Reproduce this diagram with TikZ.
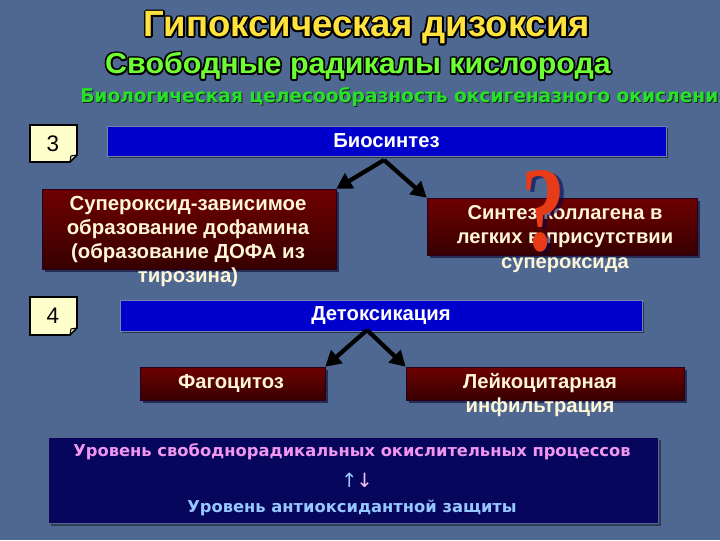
\documentclass[tikz,border=0pt]{standalone}
\usepackage{fontspec}
\setmainfont{Liberation Sans}
\newfontfamily\widef[FakeStretch=1.05]{Liberation Sans}
\newfontfamily\greenf[FakeStretch=0.98]{DejaVu Sans}
\newfontfamily\tahf{DejaVu Sans}
\newfontfamily\qf{Liberation Serif}
\usetikzlibrary{arrows.meta,calc,shadows}
\definecolor{bg}{RGB}{78,104,146}
\definecolor{barblue}{RGB}{0,0,204}
\definecolor{titley}{RGB}{255,226,60}
\definecolor{subg}{RGB}{110,255,50}
\definecolor{lineg}{RGB}{40,225,40}
\definecolor{cream}{RGB}{255,246,215}
\definecolor{notecol}{RGB}{255,255,204}
\definecolor{navy}{RGB}{6,6,92}
\definecolor{pinkt}{RGB}{240,150,240}
\definecolor{bluet}{RGB}{150,200,255}
\definecolor{qred}{RGB}{232,60,24}
\definecolor{redtop}{RGB}{110,0,0}
\definecolor{redmid}{RGB}{135,0,0}
\definecolor{redbot}{RGB}{55,0,0}
\newcommand{\outlined}[6]{%
  \foreach \a in {0,30,...,330} {\node[font=#3,text=black,inner sep=0] (#1-\a) at ($(#2)+(\a:#5)$) {#6};}
  \node[font=#3,text=#4,inner sep=0] (#1) at (#2) {#6};}
\begin{document}
\begin{tikzpicture}[x=0.025cm,y=-0.025cm,
  bar/.style={fill=barblue, draw={rgb,255:red,120;green,130;blue,170}, line width=0.6pt, inner sep=0,
     drop shadow={shadow xshift=1.5pt,shadow yshift=-1.5pt,fill=black,opacity=0.5},
     text=white, font=\bfseries\fontsize{14.4}{17}\selectfont},
  redbox/.style={top color=redtop, middle color=redmid, bottom color=redbot, draw={rgb,255:red,40;green,0;blue,30}, line width=0.4pt, inner sep=0,
     drop shadow={shadow xshift=2pt,shadow yshift=-2pt,fill={rgb,255:red,20;green,20;blue,60},opacity=0.7}},
  redtxt/.style={text=cream, align=center, inner sep=0},
  note/.style={fill=notecol, draw=black, line width=1.2pt},
  arr/.style={line width=3pt, black, -{Triangle[length=11pt,width=12pt]}}]
\useasboundingbox (0,0) rectangle (720,540);
\fill[bg] (0,0) rectangle (720,540);
\begin{scope}
\clip (0,0) rectangle (720,540);
% titles
\outlined{title}{367,28}{\bfseries\fontsize{26}{29}\selectfont}{titley}{1.8}{Гипоксическая дизоксия}
\outlined{sub}{358,66}{\widef\bfseries\fontsize{20.6}{24}\selectfont}{subg}{1.6}{Свободные радикалы кислорода}
\node[anchor=west, inner sep=0, text={rgb,255:red,20;green,40;blue,30}, font=\greenf\bfseries\fontsize{13.5}{16}\selectfont] (bioshadow) at (81,98) {Биологическая целесообразность оксигеназного окисления};
\node[anchor=west, inner sep=0, text=lineg, font=\greenf\bfseries\fontsize{13.5}{16}\selectfont] (bioline) at (80,97) {Биологическая целесообразность оксигеназного окисления};
\end{scope}
% number notes
\draw[note] (30,125) -- (77,125) -- (77,155) -- (70,162) -- (30,162) -- cycle;
\draw[line width=0.8pt] (77,155) -- (71,156) -- (70,162);
\node[font=\fontsize{16}{18}\selectfont, inner sep=0] (n3) at (53,144) {3};
\draw[note] (30,297) -- (77,297) -- (77,328) -- (70,335) -- (30,335) -- cycle;
\draw[line width=0.8pt] (77,328) -- (71,329) -- (70,335);
\node[font=\fontsize{16}{18}\selectfont, inner sep=0] (n4) at (53,316) {4};
% blue bars
\node[bar, minimum width=559*0.025cm, minimum height=30*0.025cm] (bio) at (386.5,141) {Биосинтез};
\node[bar, minimum width=522*0.025cm, minimum height=31*0.025cm] (detox) at (381,315.5) {Детоксикация};
% red boxes
\node[redbox, minimum width=294*0.025cm, minimum height=80*0.025cm] (sod) at (189,229) {};
\node[redtxt, font=\bfseries\fontsize{14.5}{17}\selectfont] (sodt) at (188,241.5) {Супероксид-зависимое\\образование дофамина\\(образование ДОФА из\\тирозина)};
\node[redbox, minimum width=270*0.025cm, minimum height=57*0.025cm] (coll) at (562,226.5) {};
\node[redtxt, font=\bfseries\fontsize{14.3}{17.5}\selectfont] (collt) at (565,239) {Синтез коллагена в\\легких в присутствии\\супероксида};
% question mark
\node[inner sep=0, opacity=0.55] (qs) at (547,213) {\resizebox{1.1cm}{2cm}{\qf\bfseries\color{black!70!blue}?}};
\node[inner sep=0] (q) at (543,211) {\resizebox{1.1cm}{2cm}{\qf\bfseries\color{qred}?}};
\node[redbox, minimum width=185*0.025cm, minimum height=33*0.025cm] (fag) at (232.5,383.5) {};
\node[redtxt, font=\bfseries\fontsize{14.4}{17}\selectfont] (fagt) at (231,383) {Фагоцитоз};
\node[redbox, minimum width=278*0.025cm, minimum height=33*0.025cm] (leuk) at (545,383.5) {};
\node[redtxt, font=\bfseries\fontsize{14.4}{17}\selectfont] (leukt) at (540,395) {Лейкоцитарная\\инфильтрация};
% arrows
\coordinate (bapex) at (384,160);
\coordinate (dapex) at (367,330);
\draw[arr] (bapex) -- (sod.north east);
\draw[arr] (bapex) -- (coll.north west);
\draw[arr] (dapex) -- (fag.north east);
\draw[arr] (dapex) -- (leuk.north west);
% bottom box
\node[fill=navy, draw={rgb,255:red,90;green,100;blue,140}, line width=0.6pt, minimum width=610*0.025cm, minimum height=86*0.025cm, inner sep=0,
  drop shadow={shadow xshift=2pt,shadow yshift=-2pt,fill=black,opacity=0.4}] (lvl) at (353,480) {};
\node[text=pinkt, font=\tahf\bfseries\fontsize{11.6}{14}\selectfont, inner sep=0] (l1) at (352,452) {Уровень свободнорадикальных окислительных процессов};
\node[font=\tahf\fontsize{14}{16}\selectfont, inner sep=0] (l2) at (357,480) {\textcolor{bluet}{↑}\kern-1pt\textcolor{pinkt!60!white}{↓}};
\node[text=bluet, font=\tahf\bfseries\fontsize{11.6}{14}\selectfont, inner sep=0] (l3) at (352,508) {Уровень антиоксидантной защиты};
\end{tikzpicture}
\end{document}
